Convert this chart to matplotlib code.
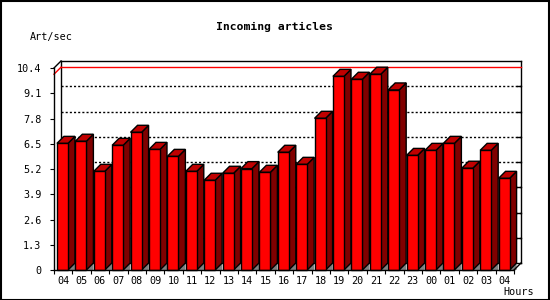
import matplotlib
matplotlib.use("Agg")
import matplotlib.pyplot as plt
from matplotlib.patches import Polygon, Rectangle

# ---- data ----
hours = ["04", "05", "06", "07", "08", "09", "10", "11", "12", "13", "14", "15",
         "16", "17", "18", "19", "20", "21", "22", "23", "00", "01", "02", "03", "04"]
rates = [6.52, 6.63, 5.08, 6.42, 7.09, 6.21, 5.85, 5.08, 4.62, 4.98, 5.22, 5.03,
         6.06, 5.44, 7.81, 9.97, 9.82, 10.08, 9.27, 5.90, 6.16, 6.52, 5.24, 6.16, 4.72]
y_ticks = [0, 1.3, 2.6, 3.9, 5.2, 6.5, 7.8, 9.1, 10.4]
y_tick_labels = ["0", "1.3", "2.6", "3.9", "5.2", "6.5", "7.8", "9.1", "10.4"]
title = "Incoming articles"
y_label = "Art/sec"
x_label = "Hours"

# ---- figure ----
W, H = 550, 300
fig = plt.figure(figsize=(W / 100, H / 100), dpi=100)
fig.patch.set_facecolor("white")

# front plot rectangle in pixels
x0p, x1p = 54, 514
y0p, y1p = 270, 68
ax = fig.add_axes([x0p / W, 1 - y0p / H, (x1p - x0p) / W, (y0p - y1p) / H])
n = len(rates)
ymax = y_ticks[-1]
ax.set_xlim(0, n)
ax.set_ylim(0, ymax)
ax.patch.set_visible(False)
for s in ax.spines.values():
    s.set_visible(False)

# depth offset (7 px) in data units
dpx = 7
dx = dpx / ((x1p - x0p) / n)
dy = dpx / ((y0p - y1p) / ymax)

mono = "DejaVu Sans Mono"
fs = 7.3

# ticks
ax.set_yticks(y_ticks)
ax.set_yticklabels(y_tick_labels, family=mono, fontsize=fs)
ax.tick_params(axis="y", direction="out", length=3, width=0.8, pad=6)
ax.set_xticks([i + 0.5 for i in range(n)])
ax.set_xticklabels(hours, family=mono, fontsize=fs)
ax.set_xticks(list(range(n + 1)), minor=True)
ax.tick_params(axis="x", which="major", length=0, pad=4)
ax.tick_params(axis="x", which="minor", direction="out", length=3, width=0.8)

lw = 1.0
kw = dict(clip_on=False)

# back plane frame
ax.plot([dx, n + dx], [ymax + dy, ymax + dy], color="black", lw=lw, zorder=1, **kw)
ax.plot([dx, dx], [dy, ymax + dy], color="black", lw=lw, zorder=1, **kw)
ax.plot([n + dx, n + dx], [dy, ymax + dy], color="black", lw=lw, zorder=1, **kw)
ax.plot([dx, n + dx], [dy, dy], color="black", lw=lw, zorder=1, **kw)
# gridlines on back plane + ticks on right back edge
for v in y_ticks[1:-1]:
    ax.plot([dx, n + dx], [v + dy, v + dy], color="black", lw=lw,
            linestyle=(0, (1.5, 1.5)), zorder=1, **kw)
for v in y_ticks[1:-1]:
    ax.plot([n + dx - 0.2, n + dx], [v + dy, v + dy], color="black", lw=lw, zorder=1, **kw)
# top-left diagonal
ax.plot([0, dx], [ymax, ymax + dy], color="black", lw=lw, zorder=1, **kw)

# max line (red)
mx = max(rates)
ax.plot([dx, n + dx], [mx + dy, mx + dy], color="#ff0000", lw=lw, zorder=1.5, **kw)
ax.plot([0, dx], [mx, mx + dy], color="#ff0000", lw=lw, zorder=1.5, **kw)

# bars
off = 0.16
bw = 0.6
for i, v in enumerate(rates):
    xl = i + off
    xr = xl + bw
    z = 3 + i * 0.01
    # gray floor shadow
    ax.add_patch(Polygon([(xr, 0), (xr + dx, dy), (xr + dx, 0)], closed=True,
                         facecolor="#808080", edgecolor="none", zorder=z, **kw))
    # side face
    ax.add_patch(Polygon([(xr, 0), (xr + dx, dy), (xr + dx, v + dy), (xr, v)], closed=True,
                         facecolor="#800000", edgecolor="black", lw=lw, zorder=z, **kw))
    # top face
    ax.add_patch(Polygon([(xl, v), (xl + dx, v + dy), (xr + dx, v + dy), (xr, v)], closed=True,
                         facecolor="#c00000", edgecolor="black", lw=lw, zorder=z, **kw))
    # front face
    ax.add_patch(Rectangle((xl, 0), bw, v, facecolor="#ff0000", edgecolor="black",
                           lw=lw, zorder=z + 0.001, **kw))

# front axes
ax.plot([0, 0], [0, ymax], color="black", lw=lw, zorder=10, **kw)
ax.plot([0, n], [0, 0], color="black", lw=lw, zorder=10, **kw)
ax.plot([n, n + dx], [0, dy], color="black", lw=lw, zorder=10, **kw)

# texts
fig.text(274 / W, 1 - 27 / H, title, ha="center", va="center",
         family=mono, fontweight="bold", fontsize=8.2)
fig.text(30 / W, 1 - 37 / H, y_label, ha="left", va="center", family=mono, fontsize=fs)
fig.text(534 / W, 1 - 292 / H, x_label, ha="right", va="center", family=mono, fontsize=fs)

# outer border
fig.add_artist(Rectangle((0.5 / W, 0.5 / H), 1 - 1.5 / W, 1 - 1.5 / H,
                         transform=fig.transFigure, fill=False,
                         edgecolor="black", lw=1.5))

fig.savefig("out.png", dpi=100)
